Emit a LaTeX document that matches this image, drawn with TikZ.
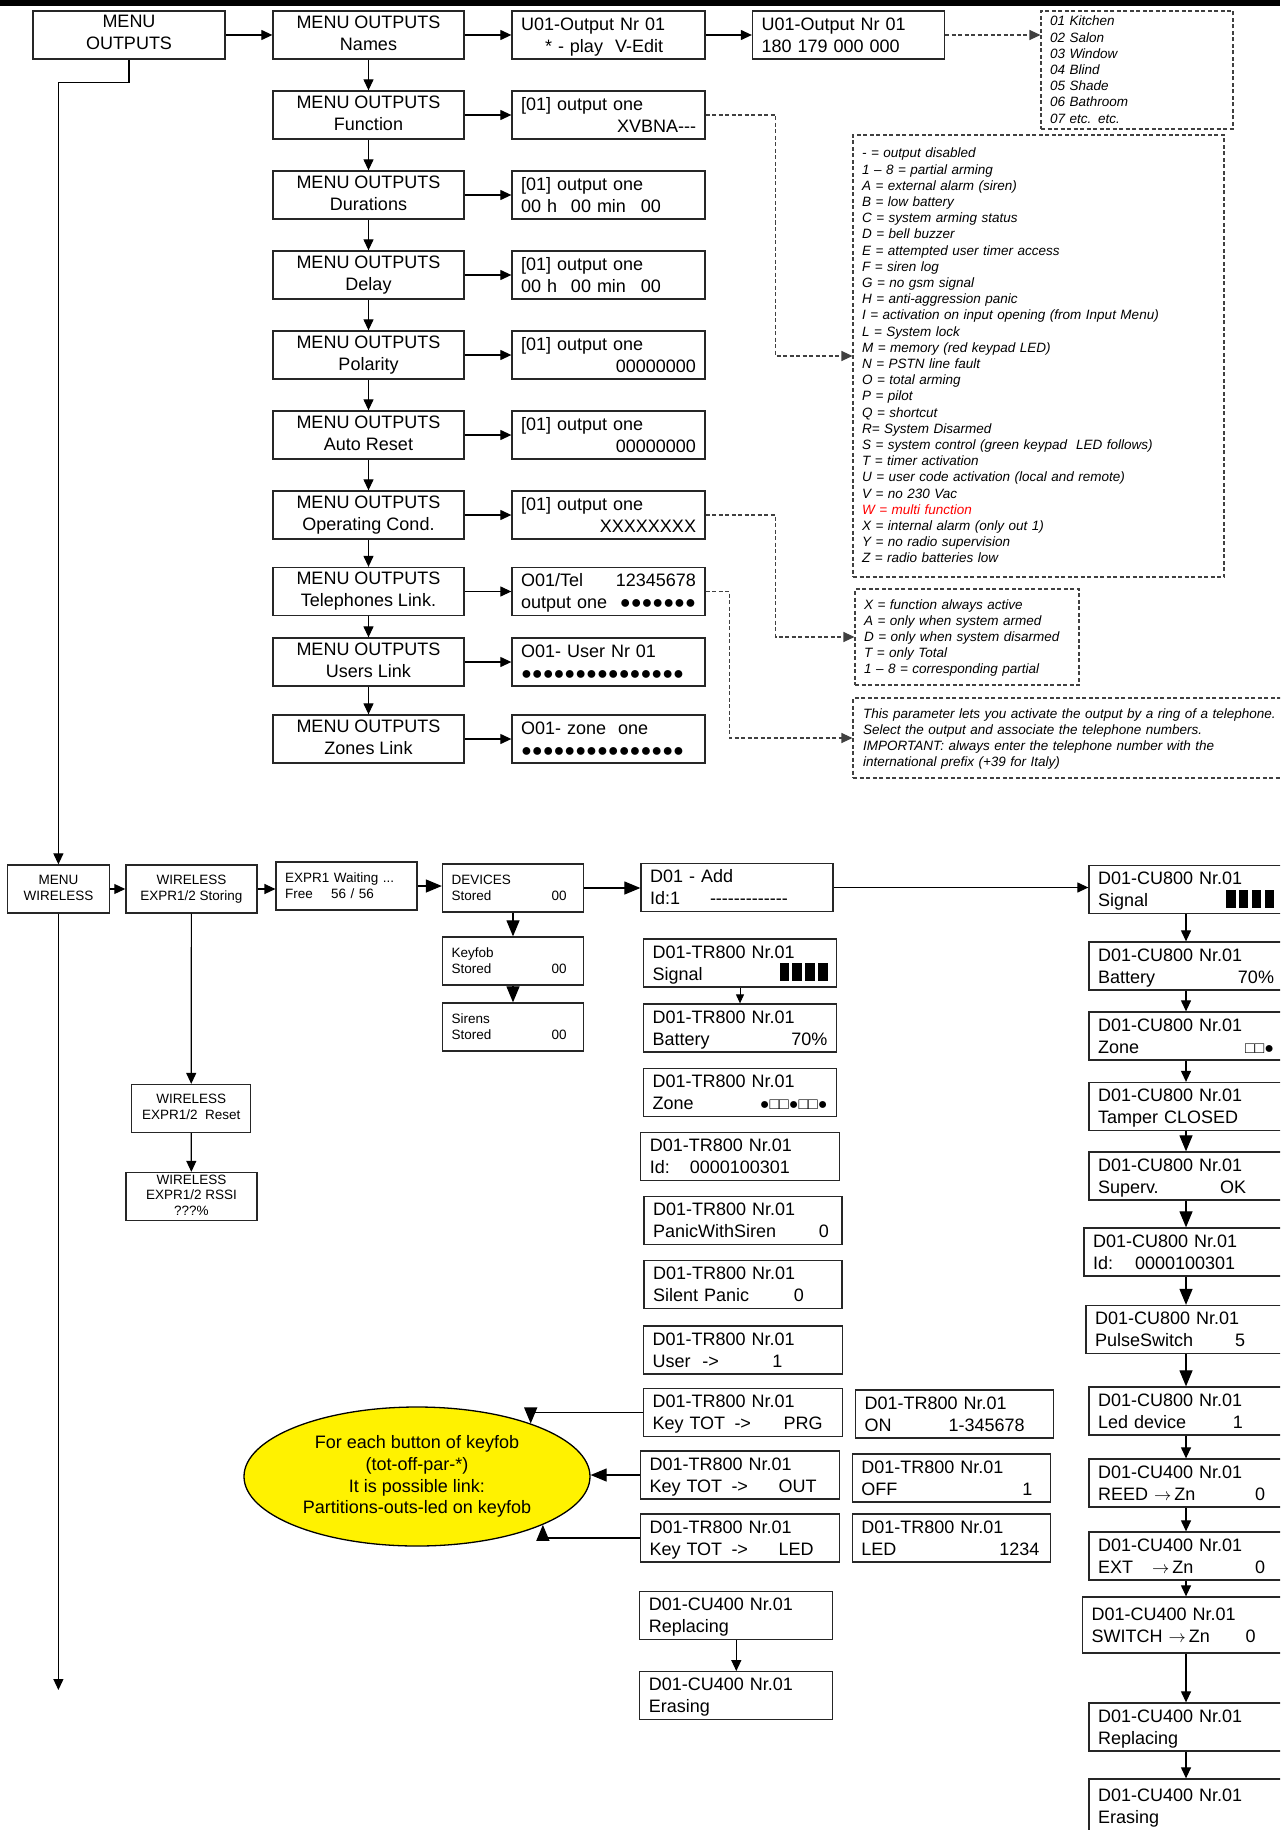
\documentclass[tikz,border=0pt]{standalone}
\usepackage{fontspec}
\usepackage{tikz}
\usetikzlibrary{shapes.geometric, arrows.meta}

\newfontfamily\lcdfam{Liberation Sans}
\newcommand{\bigfont}{\lcdfam\fontsize{18pt}{22pt}\selectfont}
\newcommand{\smallfont}{\lcdfam\fontsize{13.5pt}{16pt}\selectfont}
\newcommand{\notefont}{\lcdfam\itshape\fontsize{13.5pt}{16.2pt}\selectfont}
\newcommand{\symfont}{\fontsize{18pt}{22pt}\selectfont}
\newcommand{\rfill}{\hskip 0pt plus 1fill\relax}
\newcommand{\upstrut}{\rule{0pt}{0.75\baselineskip}}
\newcommand{\downstrut}{\rule[-0.2\baselineskip]{0pt}{0.2\baselineskip}}
\newcommand{\onebar}{\rule[-1pt]{9.5pt}{18pt}}
\newcommand{\sigbars}{\onebar\hspace{3.3pt}\onebar\hspace{3.3pt}\onebar\hspace{3.3pt}\onebar}
\newcommand{\tozn}{$\rightarrow$\,Zn}

\begin{document}
\begin{tikzpicture}[
    x=1pt, y=-1pt,
    menu/.style={
        rectangle, draw=black!85, line width=1.3pt,
        minimum width=191pt, minimum height=48pt, inner sep=0pt,
        align=center, font=\bigfont,
        execute at begin node=\upstrut, execute at end node=\downstrut
    },
    lcd/.style={
        rectangle, draw=black!85, line width=1.3pt,
        text width=#1, minimum height=48pt, inner xsep=9pt, inner ysep=0pt,
        align=left, font=\bigfont,
        execute at begin node=\upstrut, execute at end node=\downstrut
    },
    wbox/.style={menu, font=\smallfont},
    wlcd/.style={lcd=#1, font=\smallfont},
    note/.style={
        rectangle, draw=black!75, line width=1.1pt, dash pattern=on 4pt off 2.5pt,
        inner xsep=9pt, inner ysep=0pt, align=left, font=\notefont,
        execute at begin node=\upstrut, execute at end node=\downstrut
    },
    arrow/.style={-{Triangle[length=11pt,width=10pt]}, line width=1.2pt},
    bigarrow/.style={-{Triangle[length=16pt,width=13pt]}, line width=1.2pt},
    smallarrow/.style={-{Triangle[length=9pt,width=8pt]}, line width=1pt},
    dasharrow/.style={arrow, draw=black!75, line width=1.1pt, dash pattern=on 4pt off 2.5pt},
]
\path[use as bounding box, clip] (0,0) rectangle (1280,1830);
\fill[black] (0,0) rectangle (1280,6);

% Menu outputs: top row
\node[menu, minimum width=192pt] (mout) at (129,35) {MENU\\OUTPUTS};
\node[menu] (mnames)  at (368.5,35)  {MENU OUTPUTS\\Names};
\node[lcd=175pt] (vnames) at (608.5,35) {U01-Output Nr 01\\\hspace*{24pt}* - play\ \ V-Edit};
\node[lcd=174pt] (vcode)  at (848.5,35) {U01-Output Nr 01\\180 179 000 000};
\node[note, text width=174pt, minimum height=118pt] (rooms) at (1137,70)
    {01 Kitchen\\02 Salon\\03 Window\\04 Blind\\05 Shade\\06 Bathroom\\07 etc. etc.};

% Menu outputs: column
\node[menu] (mfunc)  at (368.5,115) {MENU OUTPUTS\\Function};
\node[menu] (mdur)   at (368.5,195) {MENU OUTPUTS\\Durations};
\node[menu] (mdel)   at (368.5,275) {MENU OUTPUTS\\Delay};
\node[menu] (mpol)   at (368.5,355) {MENU OUTPUTS\\Polarity};
\node[menu] (mares)  at (368.5,435) {MENU OUTPUTS\\Auto Reset};
\node[menu] (mopc)   at (368.5,515) {MENU OUTPUTS\\Operating Cond.};
\node[menu] (mtel)   at (368.5,591.5) {MENU OUTPUTS\\Telephones Link.};
\node[menu] (musr)   at (368.5,662) {MENU OUTPUTS\\Users Link};
\node[menu] (mzon)   at (368.5,739) {MENU OUTPUTS\\Zones Link};

\node[lcd=175pt] (vfunc) at (608.5,115) {[01] output one\\\rfill XVBNA---};
\node[lcd=175pt] (vdur)  at (608.5,195) {[01] output one\\\makebox[50pt][l]{00 h}\makebox[70pt][l]{00 min}00};
\node[lcd=175pt] (vdel)  at (608.5,275) {[01] output one\\\makebox[50pt][l]{00 h}\makebox[70pt][l]{00 min}00};
\node[lcd=175pt] (vpol)  at (608.5,355) {[01] output one\\\rfill 00000000};
\node[lcd=175pt] (vares) at (608.5,435) {[01] output one\\\rfill 00000000};
\node[lcd=175pt] (vopc)  at (608.5,515) {[01] output one\\\rfill XXXXXXXX};
\node[lcd=175pt] (vtel)  at (608.5,591.5) {O01/Tel\rfill 12345678\\output one\rfill{\symfont ●●●●●●●}};
\node[lcd=175pt] (vusr)  at (608.5,662) {O01- User Nr 01\\{\symfont ●●●●●●●●●●●●●●●}};
\node[lcd=175pt] (vzon)  at (608.5,739) {O01- zone\ \ one\\{\symfont ●●●●●●●●●●●●●●●}};

% Legends
\node[note, text width=353pt, minimum height=442pt] (fnlegend) at (1038.5,356) {- = output disabled\\1 – 8 = partial arming\\A = external alarm (siren)\\B = low battery\\C = system arming status\\D = bell buzzer\\E = attempted user timer access\\F = siren log\\G = no gsm signal\\H = anti-aggression panic\\I = activation on input opening (from Input Menu)\\L = System lock\\M = memory (red keypad LED)\\N = PSTN line fault\\O = total arming\\P = pilot\\Q = shortcut\\R= System Disarmed\\S = system control (green keypad\ \ LED follows)\\T = timer activation\\U = user code activation (local and remote)\\V = no 230 Vac\\\textcolor{red}{W = multi function}\\X = internal alarm (only out 1)\\Y = no radio supervision\\Z = radio batteries low};
\node[note, text width=206pt, minimum height=96pt] (oplegend) at (967,637) {X = function always active\\A = only when system armed\\D = only when system disarmed\\T = only Total\\1 – 8 = corresponding partial};
\node[note, text width=440pt, minimum height=80pt, inner xsep=10pt] (telnote) at (1083,738) {This parameter lets you activate the output by a ring of a telephone.\\Select the output and associate the telephone numbers.\\IMPORTANT: always enter the telephone number with the\\international prefix (+39 for Italy)};

% Connectors, outputs
\draw[arrow] (mout) -- (mnames);
\draw[arrow] (mnames) -- (vnames);
\draw[arrow] (vnames) -- (vcode);
\draw[dasharrow] (vcode.east) -- (vcode.east -| rooms.west);
\draw[arrow] (mnames) -- (mfunc);
\draw[arrow] (mfunc) -- (mdur);
\draw[arrow] (mdur) -- (mdel);
\draw[arrow] (mdel) -- (mpol);
\draw[arrow] (mpol) -- (mares);
\draw[arrow] (mares) -- (mopc);
\draw[arrow] (mopc) -- (mtel);
\draw[arrow] (mtel) -- (musr);
\draw[arrow] (musr) -- (mzon);
\draw[arrow] (mfunc) -- (vfunc);
\draw[arrow] (mdur) -- (vdur);
\draw[arrow] (mdel) -- (vdel);
\draw[arrow] (mpol) -- (vpol);
\draw[arrow] (mares) -- (vares);
\draw[arrow] (mopc) -- (vopc);
\draw[arrow] (mtel) -- (vtel);
\draw[arrow] (musr) -- (vusr);
\draw[arrow] (mzon) -- (vzon);
\draw[dasharrow] (vfunc.east) -- ++(70,0) |- (fnlegend.west);
\draw[dasharrow] (vopc.east) -- ++(70,0) |- (oplegend.west);
\draw[dasharrow] (vtel.east) -- ++(24,0) |- (telnote.west);

% Menu wireless
\node[wbox, minimum width=102pt] (mwl) at (58.4,889) {MENU\\WIRELESS};
\node[wbox, minimum width=131pt] (wstore) at (191.4,889) {WIRELESS\\EXPR1/2 Storing};
\node[wlcd=123pt] (wwait) at (346.6,886) {EXPR1 Waiting ...\\\makebox[46pt][l]{Free}56 / 56};
\node[wlcd=123pt] (wdev) at (513,888) {DEVICES\\\makebox[100pt][l]{Stored}00};
\node[wlcd=123pt] (wkey) at (513,961) {Keyfob\\\makebox[100pt][l]{Stored}00};
\node[wlcd=123pt] (wsir) at (513,1027) {Sirens\\\makebox[100pt][l]{Stored}00};
\node[wbox, minimum width=119pt] (wreset) at (191.2,1108.5) {WIRELESS\\EXPR1/2\ \ Reset};
\node[wbox, minimum width=131pt, font=\lcdfam\fontsize{13.5pt}{15.5pt}\selectfont] (wrssi) at (191.4,1196.5) {WIRELESS\\EXPR1/2 RSSI\\???\%};
\node[lcd=174pt] (dadd) at (737,887.5) {D01 - Add\\\makebox[60pt][l]{Id:1}-------------};
\coordinate (mwend) at (58.4,1690);

\draw[arrow] (mout.south) -- ++(0,23) -| (mwl.north);
\draw[arrow] (mwl) -- (mwend);
\draw[arrow] (mwl) -- (wstore);
\draw[arrow] (wstore.east) -- (wstore.east -| wwait.west);
\draw[bigarrow] (wwait.east) -- (wwait.east -| wdev.west);
\draw[bigarrow] (wdev) -- (wkey);
\draw[bigarrow] (wkey) -- (wsir);
\draw[arrow] (wstore) -- (wreset);
\draw[arrow] (wreset) -- (wrssi);
\draw[bigarrow] (wdev.east) -- (wdev.east -| dadd.west);

% Keyfob TR800
\node[lcd=175pt] (tr1) at (740,963) {D01-TR800 Nr.01\\Signal\rfill\sigbars};
\node[lcd=175pt] (tr2) at (740,1028) {D01-TR800 Nr.01\\Battery\rfill 70\%};
\node[lcd=175pt] (tr3) at (740,1092.5) {D01-TR800 Nr.01\\Zone\rfill{\fontsize{16pt}{22pt}\selectfont ●□□●□□●}};
\node[lcd=181pt] (tr4) at (740.3,1156.5) {D01-TR800 Nr.01\\\makebox[40pt][l]{Id:}0000100301};
\node[lcd=180pt] (tr5) at (743,1220.5) {D01-TR800 Nr.01\\\makebox[166pt][l]{PanicWithSiren}0};
\node[lcd=180pt] (tr6) at (743,1284.5) {D01-TR800 Nr.01\\\makebox[141pt][l]{Silent Panic}0};
\node[lcd=181pt] (tr7) at (743,1350) {D01-TR800 Nr.01\\\makebox[50pt][l]{User}\makebox[70pt][l]{->}1};
\node[lcd=181pt] (tr8) at (743,1412.5) {D01-TR800 Nr.01\\\makebox[82pt][l]{Key TOT}\makebox[49pt][l]{->}PRG};
\node[lcd=181pt] (tr9) at (740,1475) {D01-TR800 Nr.01\\\makebox[82pt][l]{Key TOT}\makebox[47pt][l]{->}OUT};
\node[lcd=181pt] (tr10) at (740,1538) {D01-TR800 Nr.01\\\makebox[82pt][l]{Key TOT}\makebox[47pt][l]{->}LED};
\node[lcd=180pt] (tron) at (954.5,1414) {D01-TR800 Nr.01\\\makebox[84pt][l]{ON}1-345678};
\node[lcd=180pt] (troff) at (951.3,1478) {D01-TR800 Nr.01\\\makebox[161pt][l]{OFF}1};
\node[lcd=180pt] (trled) at (951.3,1538) {D01-TR800 Nr.01\\\makebox[138pt][l]{LED}1234};
\node[lcd=175pt] (cua) at (736.3,1615.7) {D01-CU400 Nr.01\\Replacing};
\node[lcd=175pt] (cub) at (736.3,1695.7) {D01-CU400 Nr.01\\Erasing};
\node[ellipse, draw=black, line width=1.3pt, fill=yellow, minimum width=346pt, minimum height=139pt,
      inner sep=0pt, align=center, font=\lcdfam\fontsize{18pt}{21.8pt}\selectfont] (kfnote) at (417,1476.5)
    {For each button of keyfob\\(tot-off-par-*)\\It is possible link:\\Partitions-outs-led on keyfob};

\draw[smallarrow] (tr1) -- (tr2);
\draw[arrow] (cua) -- (cub);
\draw[bigarrow] (tr8.west) -| (kfnote.25);
\draw[bigarrow] (tr9.west) -- (tr9.west -| kfnote.east);
\draw[bigarrow] (tr10.west) -| (kfnote.339);

% Contact CU800 / CU400
\node[lcd=176pt] (cu1) at (1186,889.5) {D01-CU800 Nr.01\\Signal\rfill\sigbars};
\node[lcd=176pt] (cu2) at (1186,966) {D01-CU800 Nr.01\\Battery\rfill 70\%};
\node[lcd=176pt] (cu3) at (1186,1036) {D01-CU800 Nr.01\\Zone\rfill{\fontsize{16pt}{22pt}\selectfont □□●}};
\node[lcd=176pt] (cu4) at (1186,1106.5) {D01-CU800 Nr.01\\Tamper CLOSED};
\node[lcd=176pt] (cu5) at (1186,1176) {D01-CU800 Nr.01\\\makebox[122pt][l]{Superv.}OK};
\node[lcd=186pt] (cu6) at (1186,1252) {D01-CU800 Nr.01\\\makebox[42pt][l]{Id:}0000100301};
\node[lcd=182pt] (cu7) at (1186,1329.5) {D01-CU800 Nr.01\\\makebox[140pt][l]{PulseSwitch}5};
\node[lcd=176pt] (cu8) at (1186,1411) {D01-CU800 Nr.01\\\makebox[135pt][l]{Led device}1};
\node[lcd=176pt] (cu9) at (1186,1483) {D01-CU400 Nr.01\\\makebox[157pt][l]{REED \tozn}0};
\node[lcd=176pt] (cu10) at (1186,1556) {D01-CU400 Nr.01\\\makebox[54pt][l]{EXT}\makebox[103pt][l]{\tozn}0};
\node[lcd=189pt, minimum height=56pt] (cu11) at (1186,1625) {D01-CU400 Nr.01\\\makebox[154pt][l]{SWITCH \tozn}0};
\node[lcd=176pt] (cu12) at (1186,1727) {D01-CU400 Nr.01\\Replacing};
\node[lcd=176pt, minimum height=54pt] (cu13) at (1186,1806) {D01-CU400 Nr.01\\Erasing};

\draw[arrow] (dadd.east) -- (dadd.east -| cu1.west);
\draw[arrow] (cu1) -- (cu2);
\draw[arrow] (cu2) -- (cu3);
\draw[arrow] (cu3) -- (cu4);
\draw[bigarrow] (cu4) -- (cu5);
\draw[bigarrow] (cu5) -- (cu6);
\draw[bigarrow] (cu6) -- (cu7);
\draw[bigarrow] (cu7) -- (cu8);
\draw[arrow] (cu8) -- (cu9);
\draw[arrow] (cu9) -- (cu10);
\draw[arrow] (cu10) -- (cu11);
\draw[arrow] (cu11) -- (cu12);
\draw[arrow] (cu12) -- (cu13);

\end{tikzpicture}
\end{document}
